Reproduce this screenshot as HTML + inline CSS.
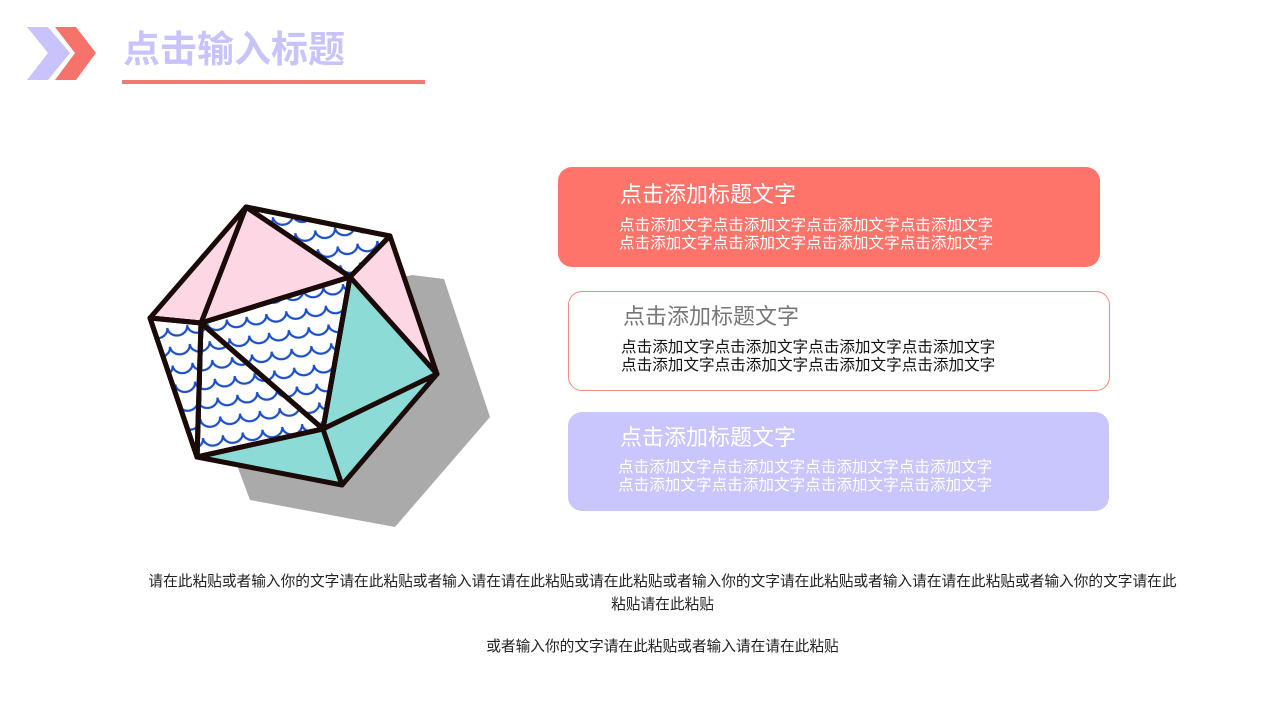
<!DOCTYPE html>
<html><head><meta charset="utf-8"><style>
body{margin:0;width:1280px;height:720px;background:#fff;position:relative;overflow:hidden;font-family:"Liberation Sans","Noto Sans CJK SC",sans-serif;}
.abs{position:absolute;}
.box{position:absolute;border-radius:14px;box-sizing:border-box;}
.t{position:absolute;font-size:22px;line-height:26px;white-space:nowrap;}
.b{position:absolute;font-size:15.6px;line-height:18px;white-space:nowrap;}
.f{position:absolute;left:0;width:1325px;text-align:center;font-size:14.7px;color:#222;white-space:nowrap;}
</style></head><body>
<svg class="abs" style="left:0;top:0" width="1280" height="720">
<defs>
<pattern id="wv" width="20" height="19" patternUnits="userSpaceOnUse" patternTransform="rotate(-8)">
<path d="M0 6 A10 9 0 0 0 20 6" fill="none" stroke="#1a4fc8" stroke-width="2.2"/>
</pattern>
</defs>
<polygon points="27,27 48,27 70,53 48,80 27,80 48,53" fill="#c9c3fb"/>
<polygon points="55,27 76,27 96,53 76,80 55,80 75,53" fill="#f5736a"/>
<rect x="122" y="80" width="303" height="4" fill="#f07a72"/>
<polygon points="412,275 444,279 490,417 395,527 250,500 235,460 300,300" fill="#aaaaaa"/>
<g stroke="#1a0a08" stroke-width="5" stroke-linejoin="round">
<polygon points="246,207 390,236 350,277" fill="#fff"/>
<polygon points="246,207 390,236 350,277" fill="url(#wv)"/>
<polygon points="246,207 350,277 201,323" fill="#fdd7e4"/>
<polygon points="246,207 201,323 150,318" fill="#fdd7e4"/>
<polygon points="390,236 437,374 350,277" fill="#fdd7e4"/>
<polygon points="350,277 437,374 323,429" fill="#8cdbd6"/>
<polygon points="201,323 350,277 323,429" fill="#fff"/>
<polygon points="201,323 350,277 323,429" fill="url(#wv)"/>
<polygon points="201,323 323,429 197,457" fill="#fff"/>
<polygon points="201,323 323,429 197,457" fill="url(#wv)"/>
<polygon points="150,318 201,323 197,457" fill="#fff"/>
<polygon points="150,318 201,323 197,457" fill="url(#wv)"/>
<polygon points="197,457 323,429 342,485" fill="#8cdbd6"/>
<polygon points="323,429 437,374 342,485" fill="#8cdbd6"/>
</g>
</svg>
<div class="abs" style="left:123px;top:27px;font-size:37px;font-weight:bold;color:#c9c3fb;line-height:46px;">点击输入标题</div>

<div class="box" style="left:558px;top:167px;width:542px;height:100px;background:#ff746a;"></div>
<div class="t" style="left:620px;top:182px;color:#fff;">点击添加标题文字</div>
<div class="b" style="left:619px;top:217px;color:#fff;">点击添加文字点击添加文字点击添加文字点击添加文字<br>点击添加文字点击添加文字点击添加文字点击添加文字</div>

<div class="box" style="left:568px;top:291px;width:542px;height:100px;border:1px solid #f08a82;"></div>
<div class="t" style="left:623px;top:304px;color:#777;">点击添加标题文字</div>
<div class="b" style="left:621px;top:339px;color:#111;">点击添加文字点击添加文字点击添加文字点击添加文字<br>点击添加文字点击添加文字点击添加文字点击添加文字</div>

<div class="box" style="left:568px;top:412px;width:541px;height:99px;background:#c9c5fd;"></div>
<div class="t" style="left:620px;top:425px;color:#fff;">点击添加标题文字</div>
<div class="b" style="left:618px;top:459px;color:#fff;">点击添加文字点击添加文字点击添加文字点击添加文字<br>点击添加文字点击添加文字点击添加文字点击添加文字</div>

<div class="f" style="top:571px;line-height:23px;">请在此粘贴或者输入你的文字请在此粘贴或者输入请在请在此粘贴或请在此粘贴或者输入你的文字请在此粘贴或者输入请在请在此粘贴或者输入你的文字请在此<br>粘贴请在此粘贴</div>
<div class="f" style="top:636px;line-height:22px;">或者输入你的文字请在此粘贴或者输入请在请在此粘贴</div>
</body></html>
